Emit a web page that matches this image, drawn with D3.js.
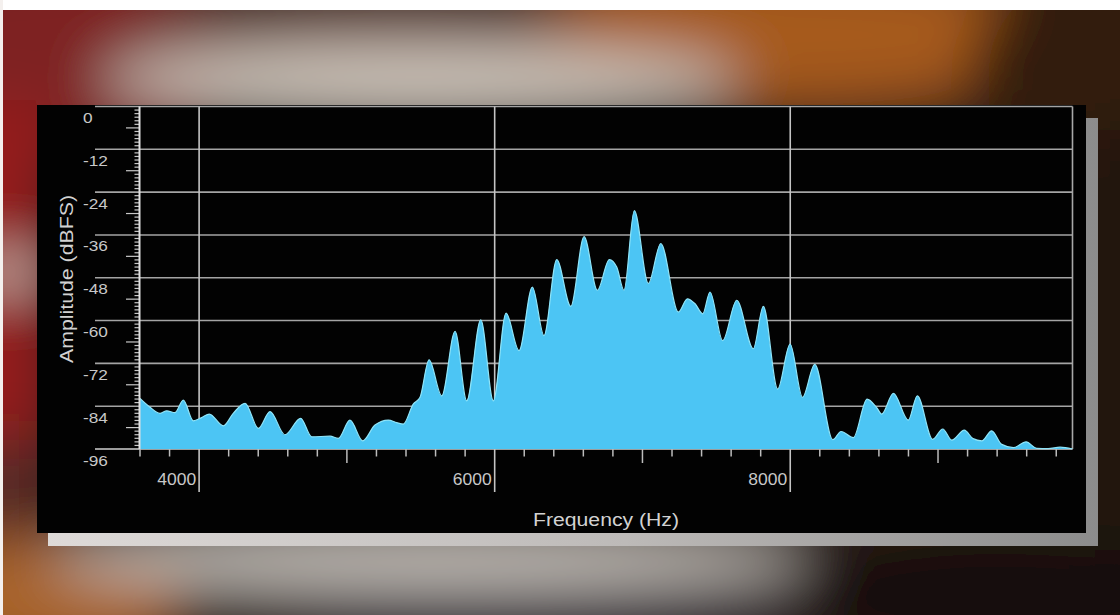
<!DOCTYPE html>
<html>
<head>
<meta charset="utf-8">
<script src="https://cdn.jsdelivr.net/npm/d3@7"></script>
<style>
  html, body { margin: 0; padding: 0; background: #fff; }
  svg { display: block; }
  text { font-family: "Liberation Sans", Arial, Helvetica, sans-serif; }
</style>
</head>
<body>
<svg id="chart" width="1120" height="615"></svg>
<script>
// ---------- data ----------
const frequencies = [3600, 3668, 3735, 3781, 3837, 3893, 3961, 4017, 4069, 4164, 4231, 4311, 4401, 4480, 4581, 4687, 4762, 4886, 4942, 5021, 5107, 5190, 5280, 5337, 5382, 5449, 5495, 5556, 5642, 5732, 5811, 5906, 5991, 6077, 6165, 6255, 6334, 6420, 6515, 6605, 6695, 6776, 6826, 6875, 6945, 7040, 7124, 7243, 7304, 7356, 7408, 7457, 7543, 7638, 7750, 7818, 7915, 7999, 8083, 8166, 8288, 8344, 8427, 8520, 8585, 8619, 8698, 8799, 8860, 8964, 9032, 9093, 9178, 9237, 9296, 9363, 9431, 9510, 9596, 9668, 9745, 9826, 9910];
const amplitudes = [-81.8, -84.3, -86.0, -85.3, -85.8, -82.3, -88.1, -87.2, -86.2, -89.5, -86.0, -83.2, -90.2, -85.5, -92.0, -87.4, -92.6, -92.4, -93.0, -87.9, -93.7, -89.3, -87.9, -88.6, -89.0, -83.4, -81.5, -71.0, -81.1, -63.0, -82.5, -59.8, -82.5, -57.9, -68.4, -50.6, -64.2, -42.9, -56.0, -36.5, -51.5, -42.9, -45.0, -51.5, -29.2, -49.6, -38.4, -57.6, -53.9, -55.3, -58.1, -52.0, -65.6, -54.3, -67.9, -56.0, -79.2, -66.6, -81.5, -72.3, -93.4, -91.1, -92.8, -82.0, -84.4, -86.2, -80.4, -87.9, -81.1, -93.3, -90.4, -93.5, -90.7, -93.1, -93.7, -90.9, -94.7, -95.6, -94.0, -95.8, -95.9, -95.5, -96.0];
const yTickValues = [0, -12, -24, -36, -48, -60, -72, -84, -96];
const xLabelValues = [4000, 6000, 8000];
const xMidValues = [5000, 7000, 9000];
const xTitle = "Frequency (Hz)";
const yTitle = "Amplitude (dBFS)";

const data = frequencies.map((f, i) => ({ f, a: amplitudes[i] }));

const svg = d3.select("#chart");
const defs = svg.append("defs");

// ---------- blurred photo background ----------
const blur = defs.append("filter").attr("id", "blur")
  .attr("filterUnits", "userSpaceOnUse")
  .attr("x", -100).attr("y", -100).attr("width", 1320).attr("height", 815);
blur.append("feGaussianBlur").attr("stdDeviation", 28);

const bg = svg.append("g").attr("filter", "url(#blur)");
bg.append("rect").attr("x", -80).attr("y", -80).attr("width", 1280).attr("height", 775).attr("fill", "#2a1a12");
// top-left red
bg.append("ellipse").attr("cx", 50).attr("cy", 60).attr("rx", 190).attr("ry", 100).attr("fill", "#7e2420");
// top-right orange
bg.append("ellipse").attr("cx", 790).attr("cy", 35).attr("rx", 280).attr("ry", 70).attr("fill", "#a65a1c");
bg.append("ellipse").attr("cx", 1090).attr("cy", 70).attr("rx", 120).attr("ry", 100).attr("fill", "#321c0c");
// top band (brownish above, pale band below)
bg.append("ellipse").attr("cx", 360).attr("cy", 28).attr("rx", 230).attr("ry", 22).attr("fill", "#6a4a40");
bg.append("ellipse").attr("cx", 420).attr("cy", 78).attr("rx", 320).attr("ry", 32).attr("fill", "#cfc6bc");
// left red strip with white star
bg.append("rect").attr("x", -60).attr("y", 100).attr("width", 105).attr("height", 340).attr("fill", "#951c1e");
bg.append("ellipse").attr("cx", 8).attr("cy", 272).attr("rx", 24).attr("ry", 18).attr("fill", "#e6dcd2");
bg.append("rect").attr("x", -60).attr("y", 440).attr("width", 105).attr("height", 110).attr("fill", "#5a2a26");
// bottom
bg.append("ellipse").attr("cx", 30).attr("cy", 600).attr("rx", 150).attr("ry", 60).attr("fill", "#a8642c");
bg.append("ellipse").attr("cx", 430).attr("cy", 562).attr("rx", 380).attr("ry", 26).attr("fill", "#c8c2bc");
bg.append("ellipse").attr("cx", 540).attr("cy", 615).attr("rx", 260).attr("ry", 24).attr("fill", "#34333c");
bg.append("ellipse").attr("cx", 1000).attr("cy", 595).attr("rx", 210).attr("ry", 60).attr("fill", "#161010");
// right strip
bg.append("rect").attr("x", 1095).attr("y", 130).attr("width", 100).attr("height", 420).attr("fill", "#1e120a");

// white frame edges of the screenshot
svg.append("rect").attr("x", 0).attr("y", 0).attr("width", 1120).attr("height", 10).attr("fill", "#ffffff");
svg.append("rect").attr("x", 0).attr("y", 0).attr("width", 3).attr("height", 615).attr("fill", "#f4f0ee");

// ---------- panel + shadow ----------
const sg = defs.append("linearGradient").attr("id", "shadowGrad").attr("x1", 0).attr("x2", 1).attr("y1", 0).attr("y2", 0);
sg.append("stop").attr("offset", "0%").attr("stop-color", "#dedad8");
sg.append("stop").attr("offset", "55%").attr("stop-color", "#bdbab8");
sg.append("stop").attr("offset", "100%").attr("stop-color", "#8c8c8c");
svg.append("rect").attr("x", 48).attr("y", 118).attr("width", 1050).attr("height", 428).attr("fill", "url(#shadowGrad)");
svg.append("rect").attr("x", 37).attr("y", 105).attr("width", 1049).attr("height", 428).attr("fill", "#020202");

// ---------- scales ----------
const x = d3.scaleLinear().domain([3600, 9910]).range([140, 1072.5]);
const y = d3.scaleLinear().domain([-96, 0]).range([449, 106.5]);

const plot = svg.append("g");

// horizontal grid lines
plot.selectAll("line.hgrid").data(yTickValues).join("line")
  .attr("class", "hgrid")
  .attr("x1", 95).attr("x2", x.range()[1])
  .attr("y1", d => y(d)).attr("y2", d => y(d))
  .attr("stroke", d => d === -96 ? "#d0d0d0" : "#a4a4a4")
  .attr("stroke-width", 1.6);

// vertical grid lines at labelled frequencies
plot.selectAll("line.vgrid").data(xLabelValues).join("line")
  .attr("class", "vgrid")
  .attr("x1", d => x(d)).attr("x2", d => x(d))
  .attr("y1", y(0)).attr("y2", 492)
  .attr("stroke", "#c4c4c4").attr("stroke-width", 1.6);

// right border
plot.append("line")
  .attr("x1", x.range()[1]).attr("x2", x.range()[1])
  .attr("y1", y(0)).attr("y2", y(-96))
  .attr("stroke", "#a8a8a8").attr("stroke-width", 1.6);

// spectrum area
const area = d3.area()
  .x(d => x(d.f))
  .y0(y(-96))
  .y1(d => y(d.a))
  .curve(d3.curveMonotoneX);
const line = d3.line()
  .x(d => x(d.f))
  .y(d => y(d.a))
  .curve(d3.curveMonotoneX);
plot.append("path").datum(data).attr("d", area).attr("fill", "#4cc5f4");
plot.append("path").datum(data).attr("d", line).attr("fill", "none")
  .attr("stroke", "#8fe4f8").attr("stroke-width", 1.2);

// x axis minor/mid ticks
const xTicks = d3.range(3600, 9801, 200).filter(v => !xLabelValues.includes(v));
plot.selectAll("line.xtick").data(xTicks).join("line")
  .attr("class", "xtick")
  .attr("x1", d => x(d)).attr("x2", d => x(d))
  .attr("y1", y(-96)).attr("y2", d => xMidValues.includes(d) ? 463 : 456.5)
  .attr("stroke", "#bcbcbc").attr("stroke-width", 1.5);

// x labels
plot.selectAll("text.xlab").data(xLabelValues).join("text")
  .attr("class", "xlab")
  .attr("transform", d => `translate(${x(d) - 3},485) scale(1.06,1)`)
  .attr("text-anchor", "end")
  .attr("font-size", 16.5)
  .attr("fill", "#c8c8c8")
  .text(d => d);

// y axis minor ticks (1 dB) and medium ticks (6 dB)
const yMinor = d3.range(0, -97, -1).filter(v => v % 12 !== 0);
plot.selectAll("line.ytick").data(yMinor).join("line")
  .attr("class", "ytick")
  .attr("x1", d => (d % 6 === 0) ? 126 : 134.5).attr("x2", 140)
  .attr("y1", d => y(d)).attr("y2", d => y(d))
  .attr("stroke", "#c8c8c8").attr("stroke-width", 1.2);

// y axis line
plot.append("line")
  .attr("x1", 139.5).attr("x2", 139.5)
  .attr("y1", y(0)).attr("y2", y(-96))
  .attr("stroke", "#e0e0e0").attr("stroke-width", 2);

// y labels
plot.selectAll("text.ylab").data(yTickValues).join("text")
  .attr("class", "ylab")
  .attr("transform", d => `translate(83,${y(d) + 16.5}) scale(1.15,1)`)
  .attr("text-anchor", "start")
  .attr("font-size", 15)
  .attr("fill", "#c8c8c8")
  .text(d => d);

// titles
svg.append("text")
  .attr("x", 606).attr("y", 526)
  .attr("text-anchor", "middle")
  .attr("font-size", 18)
  .attr("textLength", 146).attr("lengthAdjust", "spacingAndGlyphs")
  .attr("fill", "#d2d2d2")
  .text(xTitle);

svg.append("text")
  .attr("transform", "translate(73,279) rotate(-90)")
  .attr("text-anchor", "middle")
  .attr("font-size", 18)
  .attr("textLength", 168).attr("lengthAdjust", "spacingAndGlyphs")
  .attr("fill", "#d2d2d2")
  .text(yTitle);
</script>
</body>
</html>
